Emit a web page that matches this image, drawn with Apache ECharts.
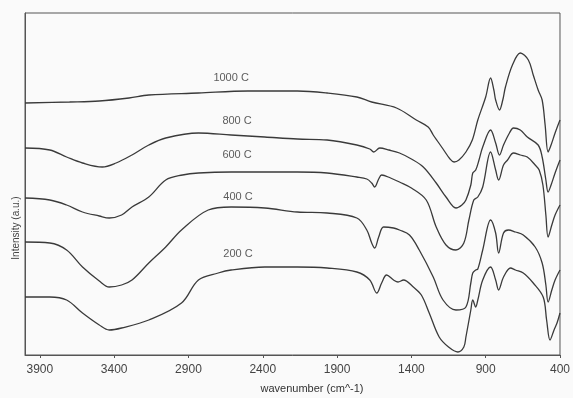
<!DOCTYPE html>
<html>
<head>
<meta charset="utf-8">
<script src="https://cdn.jsdelivr.net/npm/echarts@6/dist/echarts.min.js"></script>
<style>html,body{margin:0;padding:0;background:#fafafa;}#c{width:573px;height:398px;}</style>
</head>
<body>
<div id="c"></div>
<script>
// FTIR spectra: [wavenumber (cm^-1), intensity (a.u.)]
const s1000 = [[4000,252],[3700,253],[3500,254],[3300,257],[3167,260],[2833,262],[2500,264],[2167,264],[1967,262],[1767,258],[1667,253],[1500,247],[1367,235],[1287,228],[1253,220],[1220,213],[1187,206],[1140,196],[1113,193],[1080,195],[1033,203],[990,215],[953,235],[900,258],[867,277],[845,265],[833,255],[807,245],[785,255],[767,268],[720,290],[667,302],[613,295],[580,280],[547,265],[520,255],[500,230],[480,203],[460,210],[433,222],[400,235]];
const s800 = [[4000,207],[3833,205],[3720,198],[3613,192],[3480,188],[3387,192],[3280,200],[3167,210],[3053,217],[2833,222],[2613,220],[2387,218],[2167,216],[1967,215],[1767,210],[1680,206],[1653,203],[1613,207],[1550,205],[1480,202],[1400,196],[1320,188],[1233,172],[1167,158],[1100,147],[1060,150],[1033,155],[1000,170],[987,182],[967,185],[945,195],[920,208],[867,225],[833,212],[807,200],[780,210],[740,222],[713,227],[667,225],[620,218],[547,210],[520,198],[495,175],[480,163],[460,170],[433,182],[400,195]];
const s600 = [[4000,157],[3833,155],[3720,150],[3613,143],[3500,139],[3433,137],[3350,140],[3280,148],[3167,158],[3053,175],[2940,180],[2833,182],[2613,183],[2387,183],[2167,183],[1967,182],[1767,178],[1700,176],[1667,172],[1647,168],[1620,176],[1600,180],[1540,177],[1480,173],[1400,167],[1300,155],[1233,128],[1167,110],[1100,105],[1047,112],[1013,135],[980,155],[953,158],[920,168],[867,203],[833,185],[813,175],[780,190],[753,195],[713,202],[667,200],[620,198],[567,190],[540,185],[515,170],[495,140],[480,118],[455,130],[433,140],[400,150]];
const s400 = [[4000,113],[3833,112],[3720,105],[3613,88],[3500,74],[3433,68],[3350,70],[3280,75],[3167,92],[3053,108],[2947,125],[2767,145],[2613,148],[2387,147],[2167,143],[1967,142],[1767,137],[1700,125],[1667,112],[1647,107],[1620,118],[1587,128],[1520,127],[1480,125],[1413,120],[1347,105],[1253,78],[1187,55],[1100,45],[1033,48],[1000,72],[987,82],[967,85],[953,86],[920,105],[867,135],[833,122],[813,102],[780,122],[747,125],[700,123],[647,120],[567,108],[520,92],[495,70],[480,53],[455,65],[433,75],[400,85]];
const s200 = [[4000,58],[3833,58],[3720,55],[3613,42],[3500,30],[3433,25],[3350,27],[3167,35],[2947,52],[2833,75],[2700,82],[2613,85],[2387,88],[2167,88],[1967,87],[1767,83],[1680,75],[1633,62],[1600,72],[1567,80],[1520,75],[1490,73],[1453,75],[1387,68],[1333,60],[1280,42],[1213,18],[1150,8],[1087,3],[1047,8],[1033,18],[1000,45],[987,55],[967,48],[953,55],[920,75],[867,88],[833,75],[813,65],[780,78],[733,87],[700,85],[647,82],[580,72],[513,58],[490,35],[467,15],[440,25],[420,32],[400,42]];
const seriesNames = ['1000 C','800 C','600 C','400 C','200 C'];
const labelAnchors = [[2613,277],[2573,234],[2573,200],[2567,158],[2567,101]];
const xTickValues = [3900,3400,2900,2400,1900,1400,900,400];

const chart = echarts.init(document.getElementById('c'), null, {renderer:'canvas'});
const font = 'Liberation Sans, Arial, sans-serif';
const allData = [s1000, s800, s600, s400, s200];
const lineSeries = allData.map((d,i)=>({
  name: seriesNames[i], type:'line', data:d, showSymbol:false, smooth:0.35,
  lineStyle:{color:'#3a3a3a', width:1.3}, silent:true, animation:false
}));
lineSeries.push({
  type:'scatter', symbolSize:0, animation:false, silent:true,
  data: labelAnchors.map((p,i)=>[p[0],p[1],seriesNames[i]]),
  label:{show:true, position:'inside', formatter:p=>p.data[2], color:'#333', fontSize:11, fontFamily:font}
});
chart.setOption({
  backgroundColor:'#fafafa',
  animation:false,
  grid:{left:25, right:8, top:13, bottom:43, show:true, borderColor:'#555', borderWidth:1, backgroundColor:'transparent'},
  xAxis:{
    type:'value', inverse:true, min:400, max:4000, interval:100,
    axisLine:{show:true, lineStyle:{color:'#555'}},
    axisTick:{show:true, customValues:xTickValues, length:3, lineStyle:{color:'#555'}},
    axisLabel:{customValues:xTickValues, color:'#444', fontSize:12, fontFamily:font, margin:9,
      formatter:v=> xTickValues.indexOf(v)>=0 ? String(v) : ''},
    splitLine:{show:false}
  },
  yAxis:{
    type:'value', min:0, max:342,
    axisLine:{show:true, lineStyle:{color:'#555'}},
    axisTick:{show:false}, axisLabel:{show:false}, splitLine:{show:false}
  },
  graphic:[
    {type:'text', x:312, y:389, style:{text:'wavenumber (cm^-1)', textAlign:'center', textVerticalAlign:'middle', fill:'#333', fontSize:11, fontFamily:font}},
    {type:'text', x:16, y:228, rotation:Math.PI/2, style:{text:'Intensity (a.u.)', textAlign:'center', textVerticalAlign:'middle', fill:'#444', fontSize:10, fontFamily:font}}
  ],
  series: lineSeries
});
</script>
</body>
</html>
